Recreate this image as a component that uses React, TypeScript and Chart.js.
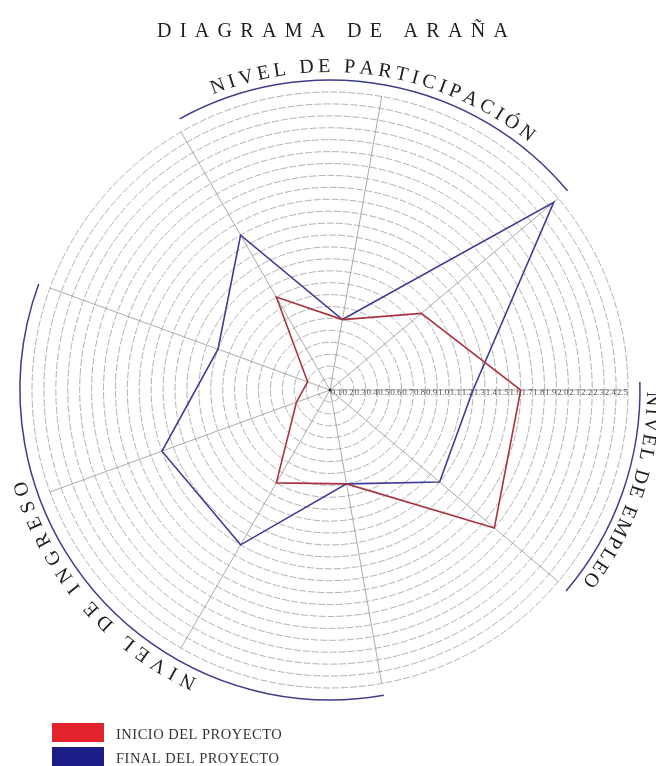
import React, { useEffect, useRef } from "react";
import { Chart, registerables } from "chart.js";

Chart.register(...registerables);

// ---------- data ----------
const CATEGORIES = ["1", "2", "3", "4", "5", "6", "7", "8", "9"];
const INICIO = [1.6, 1.8, 0.8, 0.9, 0.3, 0.2, 0.9, 0.6, 1.0];
const FINAL = [1.2, 1.2, 0.8, 1.5, 1.5, 1.0, 1.5, 0.6, 2.45];
const TICK_LABELS = [
  "0.1", "0.2", "0.3", "0.4", "0.5", "0.6", "0.7", "0.8", "0.9", "1.0",
  "1.1", "1.2", "1.3", "1.4", "1.5", "1.6", "1.7", "1.8", "1.9", "2.0",
  "2.1", "2.2", "2.3", "2.4", "2.5",
];
const SERIES_NAMES = ["INICIO DEL PROYECTO", "FINAL DEL PROYECTO"];
const TITLE = "DIAGRAMA DE ARAÑA";
const GROUP_LABELS = ["NIVEL DE PARTICIPACIÓN", "NIVEL DE EMPLEO", "NIVEL DE INGRESO"];

// ---------- styles ----------
const SERIF = '"Liberation Serif", "DejaVu Serif", serif';
const LINE_RED = "#a8343f";
const LINE_BLUE = "#3c3c96";
const BOX_RED = "#e3232b";
const BOX_BLUE = "#1c1c86";
const ARC_COLOR = "#3d3d8c";
const TEXT_COLOR = "#1e1e1e";

const D2R = Math.PI / 180;

function drawCurved(ctx: CanvasRenderingContext2D, text: string, cx: number, cy: number, r: number, centerDeg: number, spanDeg: number) {
  const chars = Array.from(text);
  const n = chars.length;
  const widths = chars.map((c) => ctx.measureText(c).width);
  const spanPx = spanDeg * D2R * r;
  const natural = widths.reduce((a, b) => a + b, 0) - widths[0] / 2 - widths[n - 1] / 2;
  const s = (spanPx - natural) / (n - 1);
  let pos = -spanPx / 2;
  const c0 = centerDeg * D2R;
  ctx.textAlign = "center";
  ctx.textBaseline = "alphabetic";
  for (let i = 0; i < n; i++) {
    const a = c0 + pos / r;
    ctx.save();
    ctx.translate(cx + r * Math.cos(a), cy + r * Math.sin(a));
    ctx.rotate(a + Math.PI / 2);
    ctx.fillText(chars[i], 0, 0);
    ctx.restore();
    if (i < n - 1) pos += widths[i] / 2 + s + widths[i + 1] / 2;
  }
}

const decorPlugin = {
  id: "decor",
  beforeDatasetsDraw(chart: any) {
    const ctx: CanvasRenderingContext2D = chart.ctx;
    const sc = chart.scales.r;
    const cx = sc.xCenter;
    const cy = sc.yCenter;
    ctx.save();
    ctx.font = `9px ${SERIF}`;
    ctx.fillStyle = "#555";
    ctx.textAlign = "right";
    ctx.textBaseline = "alphabetic";
    TICK_LABELS.forEach((lab) => {
      const d = sc.getDistanceFromCenterForValue(parseFloat(lab));
      ctx.fillText(lab, cx + d, cy + 5);
    });
    ctx.fillStyle = "#333";
    ctx.beginPath();
    ctx.arc(cx, cy, 1.5, 0, Math.PI * 2);
    ctx.fill();
    ctx.restore();
  },
  afterDraw(chart: any) {
    const ctx: CanvasRenderingContext2D = chart.ctx;
    const sc = chart.scales.r;
    const cx = sc.xCenter;
    const cy = sc.yCenter;
    const R = sc.drawingArea;
    ctx.save();

    // title
    ctx.fillStyle = TEXT_COLOR;
    ctx.font = `20px ${SERIF}`;
    ctx.textAlign = "left";
    ctx.textBaseline = "alphabetic";
    const tChars = Array.from(TITLE);
    const nat = ctx.measureText(TITLE).width;
    const sp = (351 - nat) / (tChars.length - 1);
    (ctx as any).letterSpacing = `${sp}px`;
    ctx.fillText(TITLE, 157, 37);
    (ctx as any).letterSpacing = "0px";

    // group arcs
    ctx.strokeStyle = ARC_COLOR;
    ctx.lineWidth = 1.5;
    const arcs = [
      [-119, -40],
      [-1.5, 40.4],
      [80, 200],
    ];
    arcs.forEach(([a0, a1]) => {
      ctx.beginPath();
      ctx.arc(cx, cy, R + 12, a0 * D2R, a1 * D2R);
      ctx.stroke();
    });

    // curved group labels
    ctx.fillStyle = TEXT_COLOR;
    ctx.font = `20px ${SERIF}`;
    drawCurved(ctx, GROUP_LABELS[0], cx, cy, R + 20, -81.4, 57.8);
    drawCurved(ctx, GROUP_LABELS[1], cx, cy, R + 19, 18.8, 34.4);
    drawCurved(ctx, GROUP_LABELS[2], cx, cy, R + 20, 139.1, 46.2);

    // legend
    const boxes = [BOX_RED, BOX_BLUE];
    ctx.font = `14.5px ${SERIF}`;
    ctx.textAlign = "left";
    ctx.textBaseline = "alphabetic";
    SERIES_NAMES.forEach((name, i) => {
      const y = 723 + i * 24;
      ctx.fillStyle = boxes[i];
      ctx.fillRect(52, y, 52, 19);
      ctx.fillStyle = "#333";
      (ctx as any).letterSpacing = "0.5px";
      ctx.fillText(name, 116, y + 16);
      (ctx as any).letterSpacing = "0px";
    });

    ctx.restore();
  },
};

export default function App() {
  const ref = useRef<HTMLCanvasElement | null>(null);
  useEffect(() => {
    if (!ref.current) return;
    const chart = new Chart(ref.current, {
      type: "radar",
      data: {
        labels: CATEGORIES,
        datasets: [
          {
            label: SERIES_NAMES[0],
            data: INICIO,
            borderColor: LINE_RED,
            backgroundColor: "transparent",
            borderWidth: 1.6,
            pointRadius: 0,
            fill: false,
            tension: 0,
          },
          {
            label: SERIES_NAMES[1],
            data: FINAL,
            borderColor: LINE_BLUE,
            backgroundColor: "transparent",
            borderWidth: 1.6,
            pointRadius: 0,
            fill: false,
            tension: 0,
          },
        ],
      },
      options: {
        responsive: false,
        animation: false,
        events: [],
        layout: { padding: { left: 32, right: 28, top: 92, bottom: 78 } },
        plugins: {
          legend: { display: false },
          title: { display: false },
          tooltip: { enabled: false },
        },
        scales: {
          r: {
            min: 0,
            max: 2.5,
            startAngle: 90,
            ticks: { stepSize: 0.1, display: false },
            pointLabels: { display: false },
            grid: { circular: true, color: "#a9a9a9", lineWidth: 0.9 },
            border: { dash: [7, 2] },
            angleLines: { color: "#959595", lineWidth: 0.8 },
          } as any,
        },
      },
      plugins: [decorPlugin],
    } as any);
    return () => chart.destroy();
  }, []);
  return (
    <div style={{ position: "fixed", left: 0, top: 0, width: 656, height: 766, background: "#fff" }}>
      <canvas ref={ref} width={656} height={766} style={{ display: "block", width: 656, height: 766 }} />
    </div>
  );
}
